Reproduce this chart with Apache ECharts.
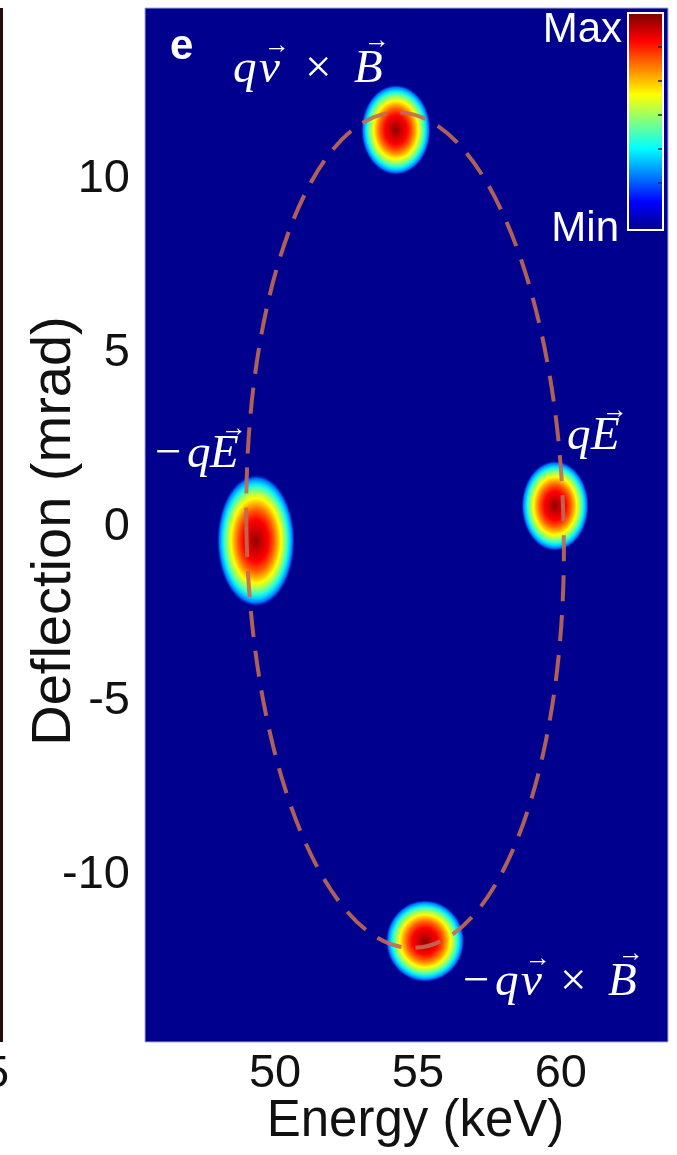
<!DOCTYPE html>
<html><head><meta charset="utf-8">
<script src="https://cdn.jsdelivr.net/npm/echarts@6/dist/echarts.min.js"></script>
<style>html,body{margin:0;padding:0;background:#fff}#c{width:677px;height:1155px}</style>
</head><body><div id="c"></div>
<script>
// ---- data ----
const energyTicks = [50, 55, 60];
const deflectionTicks = [-10, -5, 0, 5, 10];
const spotNames = ['qv×B', '-qE', 'qE', '-qv×B'];
const spotEnergy = [54.23, 49.33, 59.8, 55.25];
const spotDeflection = [11.4, -0.4, 0.6, -11.9];
const spotHalfWidthE = [1.22, 1.36, 1.18, 1.38];
const spotHalfWidthD = [1.3, 1.9, 1.3, 1.18];
const ellipseCenter = [54.55, -0.1];
const ellipseSemiAxes = [5.55, 12.0];
const ellipseTiltDeg = [1.2];
const colorbarLabels = ['Max', 'Min'];
const jetColors = ['#00008F', '#0000FF', '#00FFFF', '#FFFF00', '#FF0000', '#800000'];

const BG = '#00008F';
const spotStops = [
  {offset: 0, color: '#8a0000'},
  {offset: 0.12, color: '#c00000'},
  {offset: 0.32, color: '#ff0000'},
  {offset: 0.46, color: '#ff5a00'},
  {offset: 0.56, color: '#ffb000'},
  {offset: 0.64, color: '#ffff00'},
  {offset: 0.73, color: '#a0ff60'},
  {offset: 0.81, color: '#30ffd0'},
  {offset: 0.87, color: '#00d8ff'},
  {offset: 0.94, color: '#0070ff'},
  {offset: 1, color: 'rgba(0,20,200,0)'}
];

const chart = echarts.init(document.getElementById('c'), null, {renderer: 'canvas'});

const serif = '"Liberation Serif", "DejaVu Serif", serif';
const sans = '"Liberation Sans", Arial, sans-serif';
function glyph(text, x, baseline, size, italic) {
  return {type: 'text', x: x, y: baseline + size * 0.153, silent: true, z: 50,
    style: {text: text, fill: '#fff', fontSize: size, fontFamily: serif,
      fontStyle: italic ? 'italic' : 'normal', verticalAlign: 'bottom', align: 'left'}};
}
const AS = 47;
const arrowSize = 26;
const annotations = [
  // top: q v x B
  glyph('q', 233, 86, AS, true), glyph('v', 259, 86, AS, true), glyph('×', 305, 86, AS, false), glyph('B', 354, 86, AS, true),
  glyph('→', 264, 55, arrowSize, false), glyph('→', 364, 50, arrowSize, false),
  // left: -qE
  glyph('−', 155, 471, AS, false), glyph('q', 187, 471, AS, true), glyph('E', 210, 471, AS, true),
  glyph('→', 221, 438, arrowSize, false),
  // right: qE
  glyph('q', 567, 453, AS, true), glyph('E', 591, 453, AS, true),
  glyph('→', 602, 420, arrowSize, false),
  // bottom: -qv x B
  glyph('−', 463, 999, AS, false), glyph('q', 495, 999, AS, true), glyph('v', 521, 999, AS, true),
  glyph('×', 560, 999, AS, false), glyph('B', 608, 999, AS, true),
  glyph('→', 525, 968, arrowSize, false), glyph('→', 618, 963, arrowSize, false)
];

const cbX = 629, cbY = 14, cbW = 33, cbH = 215;
const cbOffsets = [0, 0.125, 0.375, 0.625, 0.875, 1];
const cbTicks = [47, 81, 115, 149, 183].map(y => ({type: 'line', silent: true, z: 61,
  shape: {x1: cbX + cbW - 4, y1: y, x2: cbX + cbW, y2: y}, style: {stroke: '#222', lineWidth: 1.5}}));

const option = {
  animation: false,
  backgroundColor: '#fff',
  grid: {left: 145, top: 8, right: 9, bottom: 113, show: true, backgroundColor: BG,
    borderColor: '#a8a8d8', borderWidth: 1, containLabel: false, outerBoundsMode: 'none'},
  xAxis: {type: 'value', min: 45.45, max: 63.75,
    name: 'Energy (keV)', nameLocation: 'middle', nameGap: 54, nameMoveOverlap: false,
    nameTextStyle: {fontSize: 51, color: '#111', fontFamily: sans, padding: [0, 0, 0, 18]},
    axisLine: {show: false}, axisTick: {show: false}, splitLine: {show: false},
    axisLabel: {customValues: energyTicks, fontSize: 47, color: '#111', margin: 9, fontFamily: sans}},
  yAxis: {type: 'value', min: -14.8, max: 14.9,
    name: 'Deflection (mrad)', nameLocation: 'middle', nameGap: 62, nameRotate: 90, nameMoveOverlap: false,
    nameTextStyle: {fontSize: 56, color: '#111', fontFamily: sans, padding: [0, 12, 0, 0]},
    axisLine: {show: false}, axisTick: {show: false}, splitLine: {show: false},
    axisLabel: {customValues: deflectionTicks, fontSize: 47, color: '#111', margin: 15, fontFamily: sans}},
  series: [
    {type: 'custom', name: 'spots', coordinateSystem: 'cartesian2d', silent: true, z: 2,
      data: spotEnergy.map((e, i) => ({name: spotNames[i], value: [e, spotDeflection[i], spotHalfWidthE[i], spotHalfWidthD[i]]})),
      encode: {x: 0, y: 1},
      renderItem: function (params, api) {
        const c = api.coord([api.value(0), api.value(1)]);
        const s = api.size([api.value(2), api.value(3)]);
        return {type: 'circle', x: c[0], y: c[1], scaleX: 1, scaleY: s[1] / s[0],
          shape: {cx: 0, cy: 0, r: s[0]},
          style: {fill: {type: 'radial', x: 0.5, y: 0.5, r: 0.5, colorStops: spotStops}}};
      }},
    {type: 'custom', name: 'ellipse', coordinateSystem: 'cartesian2d', silent: true, z: 3,
      data: [[ellipseCenter[0], ellipseCenter[1], ellipseSemiAxes[0], ellipseSemiAxes[1], ellipseTiltDeg[0]]],
      encode: {x: 0, y: 1},
      renderItem: function (params, api) {
        const c = api.coord([api.value(0), api.value(1)]);
        const s = api.size([api.value(2), api.value(3)]);
        return {type: 'ellipse', x: c[0], y: c[1], rotation: api.value(4) * Math.PI / 180,
          shape: {cx: 0, cy: 0, rx: s[0], ry: s[1]},
          style: {fill: 'none', stroke: '#c26a52', lineWidth: 4, lineDash: [26, 14], opacity: 0.9}};
      }}
  ],
  graphic: [
    // fragment of neighbouring panel at far left
    {type: 'rect', silent: true, shape: {x: 0, y: 8, width: 3, height: 1034}, style: {fill: '#2a0a0a'}},
    {type: 'text', silent: true, x: -16, y: 1052, style: {text: '5', fontSize: 45, fill: '#111', fontFamily: sans}},
    // panel letter
    {type: 'text', silent: true, z: 50, x: 170, y: 26, style: {text: 'e', fill: '#fff', fontSize: 42,
      fontWeight: 'bold', fontFamily: sans}},
    // colorbar
    {type: 'rect', silent: true, z: 59, shape: {x: cbX - 2, y: cbY - 2, width: cbW + 4, height: cbH + 4},
      style: {fill: '#fff'}},
    {type: 'rect', silent: true, z: 60, shape: {x: cbX, y: cbY, width: cbW, height: cbH},
      style: {fill: {type: 'linear', x: 0, y: 1, x2: 0, y2: 0,
        colorStops: jetColors.map((c, i) => ({offset: cbOffsets[i], color: c}))}}},
    ...cbTicks,
    {type: 'text', silent: true, z: 60, x: 622, y: 9, style: {text: colorbarLabels[0], fill: '#fff', fontSize: 42,
      align: 'right', fontFamily: sans}},
    {type: 'text', silent: true, z: 60, x: 619, y: 208, style: {text: colorbarLabels[1], fill: '#fff', fontSize: 42,
      align: 'right', fontFamily: sans}},
    ...annotations
  ]
};
chart.setOption(option);
</script>
</body></html>
